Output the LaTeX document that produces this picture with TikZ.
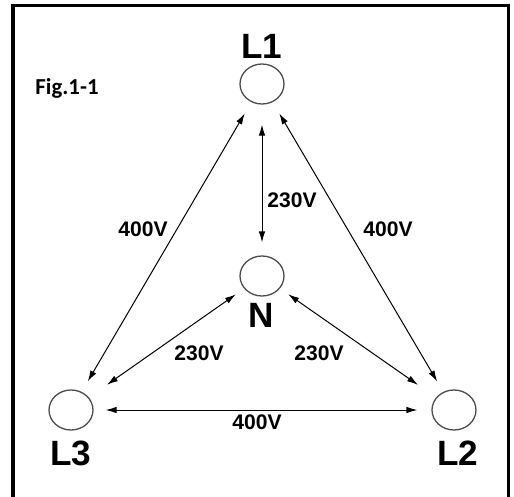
\documentclass[tikz,border=0pt]{standalone}
\usepackage{fontspec}
\setmainfont{Liberation Sans}
\newfontfamily\figfont{Carlito}
\usetikzlibrary{arrows.meta,shapes.geometric}
\tikzset{
  terminal/.style={
    ellipse,
    draw=black!70,
    line width=0.26mm,
    minimum width=8.8mm,
    minimum height=8mm,
    inner sep=0pt
  },
  term-label/.style={font=\fontsize{20}{24}\selectfont\bfseries, inner sep=0pt},
  volt-label/.style={font=\fontsize{12}{14}\selectfont\bfseries, inner sep=0pt},
  volt-arrow/.style={
    {Latex[length=2.2mm,width=1.3mm]}-{Latex[length=2.2mm,width=1.3mm]},
    line width=0.2mm
  }
}

\begin{document}
\begin{tikzpicture}[x=0.2mm,y=-0.2mm]
  \useasboundingbox (0,0) rectangle (514,497);
  % frame, open at the bottom
  \draw[line width=0.6mm] (13,497) -- (13,5) -- (508,5) -- (508,497);
  \node[font=\fontsize{13}{15}\selectfont\figfont\bfseries, inner sep=0pt] (fig) at (67,88) {Fig.1-1};
  % terminals
  \node[terminal] (L1) at (262,84) {};
  \node[terminal] (N) at (262,276) {};
  \node[terminal] (L3) at (71,410) {};
  \node[terminal] (L2) at (454,410) {};
  \node[term-label] (L1txt) at (262,46) {L1};
  \node[term-label] (Ntxt) at (261,315) {N};
  \node[term-label] (L3txt) at (71,453) {L3};
  \node[term-label] (L2txt) at (458,453) {L2};
  % voltages
  \draw[volt-arrow, shorten <=2.6mm, shorten >=2.4mm] (L1) -- (L3);
  \draw[volt-arrow, shorten <=2.6mm, shorten >=2.4mm] (L1) -- (L2);
  \draw[volt-arrow, shorten <=4mm, shorten >=2.6mm] (L1) -- (N);
  \draw[volt-arrow, shorten <=2mm, shorten >=4.4mm] (N) -- (L3);
  \draw[volt-arrow, shorten <=2mm, shorten >=4.4mm] (N) -- (L2);
  \draw[volt-arrow, shorten <=2.4mm, shorten >=2.8mm] (L3) -- (L2);
  \node[volt-label] (v13) at (143,229) {400V};
  \node[volt-label] (v12) at (388,229) {400V};
  \node[volt-label] (v1n) at (292,200) {230V};
  \node[volt-label] (v3n) at (199,353) {230V};
  \node[volt-label] (v2n) at (319,353) {230V};
  \node[volt-label] (v32) at (257,422) {400V};
\end{tikzpicture}
\end{document}
